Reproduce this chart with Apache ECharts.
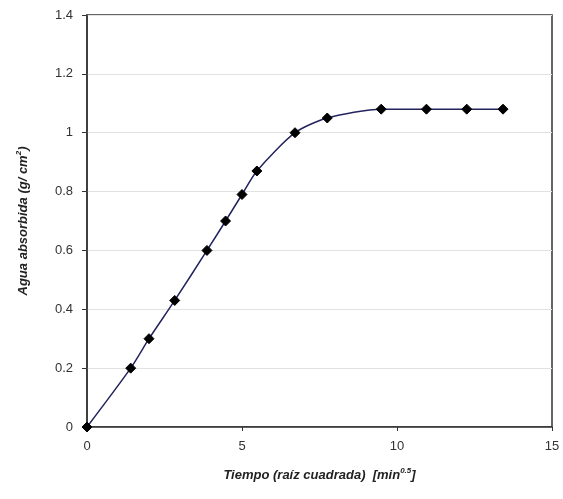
<!DOCTYPE html>
<html>
<head>
<meta charset="utf-8">
<script src="https://cdn.jsdelivr.net/npm/echarts@6/dist/echarts.min.js"></script>
<style>
  html, body { margin: 0; padding: 0; background: #fff; }
  #chart { width: 563px; height: 499px; }
</style>
</head>
<body>
<div id="chart"></div>
<script>
// raíz cuadrada del tiempo (min^0.5) y agua absorbida (g/cm2)
const tiempo = [0, 1.41, 2, 2.83, 3.87, 4.47, 5, 5.48, 6.71, 7.75, 9.49, 10.95, 12.25, 13.42];
const agua = [0, 0.2, 0.3, 0.43, 0.6, 0.7, 0.79, 0.87, 1.0, 1.05, 1.08, 1.08, 1.08, 1.08];
const xTicks = [0, 5, 10, 15];
const yTicks = [0, 0.2, 0.4, 0.6, 0.8, 1, 1.2, 1.4];

const chart = echarts.init(document.getElementById('chart'));
const font = 'Liberation Sans, Arial, sans-serif';
const titleRich = {
  t: { fontFamily: font, fontStyle: 'italic', fontWeight: 'bold', fontSize: 13, color: '#222' },
  s: { fontFamily: font, fontStyle: 'italic', fontWeight: 'bold', fontSize: 8, color: '#222', verticalAlign: 'top', padding: [0, 0, 8, 0] }
};

chart.setOption({
  animation: false,
  grid: { left: 87, right: 11, top: 15, bottom: 72, show: true, borderColor: '#333', borderWidth: 1.5 },
  xAxis: {
    type: 'value',
    min: xTicks[0],
    max: xTicks[xTicks.length - 1],
    interval: 5,
    name: '{t|Tiempo (raíz cuadrada)  [min}{s|0.5}{t|]}',
    nameLocation: 'middle',
    nameGap: 40,
    nameTextStyle: { rich: titleRich },
    axisLine: { lineStyle: { color: '#333', width: 1.5 } },
    axisTick: { show: true, length: 4, lineStyle: { color: '#333' } },
    axisLabel: { fontFamily: font, fontSize: 13, color: '#333', margin: 13 },
    splitLine: { show: false }
  },
  yAxis: {
    type: 'value',
    min: 0,
    max: yTicks[yTicks.length - 1],
    interval: 0.2,
    name: '{t|Agua absorbida (g/ cm}{s|2}{t|)}',
    nameLocation: 'middle',
    nameGap: 56,
    nameTextStyle: { rich: titleRich },
    axisLine: { show: true, lineStyle: { color: '#333', width: 1.5 } },
    axisTick: { show: true, length: 5, lineStyle: { color: '#333' } },
    axisLabel: {
      fontFamily: font, fontSize: 13, color: '#333', margin: 14,
      formatter: v => String(Math.round(v * 10) / 10)
    },
    splitLine: { show: true, lineStyle: { color: '#e2e2e2', width: 1 } }
  },
  series: [{
    type: 'line',
    data: tiempo.map((t, i) => [t, agua[i]]),
    smooth: 0.25,
    symbol: 'diamond',
    symbolSize: 10,
    lineStyle: { color: '#23235e', width: 1.5 },
    itemStyle: { color: '#000', borderColor: '#000' }
  }]
});
</script>
</body>
</html>
